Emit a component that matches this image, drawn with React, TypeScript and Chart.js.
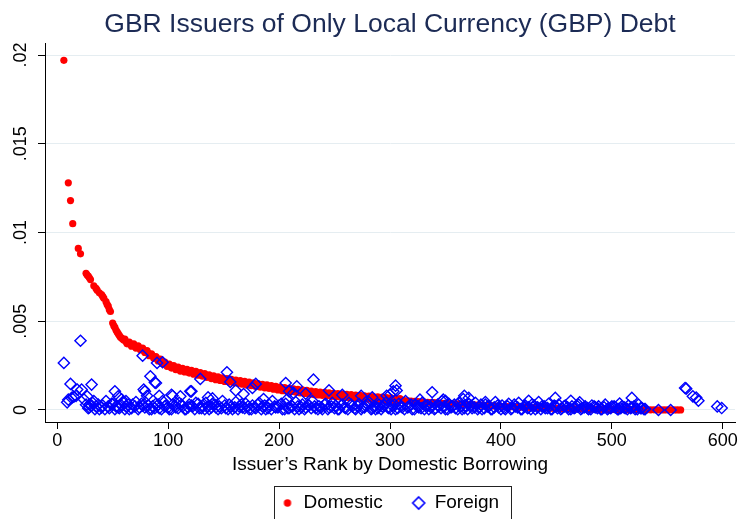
import React, { useEffect, useRef } from "react";
import { Chart, registerables } from "chart.js";

Chart.register(...registerables);

const FONT = '"Liberation Sans", Arial, Helvetica, sans-serif';
const TITLE = "GBR Issuers of Only Local Currency (GBP) Debt";
const X_TITLE = "Issuer\u2019s Rank by Domestic Borrowing";
const SERIES_NAMES = ["Domestic", "Foreign"];
const X_TICKS = [0, 100, 200, 300, 400, 500, 600];
const Y_TICKS = [0, 0.005, 0.01, 0.015, 0.02];
const Y_TICK_LABELS = ["0", ".005", ".01", ".015", ".02"];

// [rank, share in units of 1e-4]
const domesticHead: [number, number][] = [
  [6, 197], [10, 128], [12, 118], [14, 105], [19, 91], [21, 88],
  [26, 77], [27, 76], [28, 75.5], [29, 74.5], [30, 73.5], [33, 70], [35, 68.5], [36, 67.5],
  [38, 66], [40, 65], [41, 64], [42, 63], [44, 61], [45, 59.5], [46, 58.5], [47, 56.5], [48, 55.5],
  [50, 49], [51, 47.5], [52, 46.5], [53, 45], [54, 44], [55, 43], [56, 42], [57, 41], [58, 40.5], [59, 40],
];

const domesticTail: [number, number][] = [
  [60, 39.5], [62, 38.5], [64, 37.8], [66, 37], [68, 36.5], [70, 36], [72, 35.5], [74, 35], [76, 34.5], [78, 33.5],
  [80, 33], [82, 32], [84, 31], [86, 30.5], [88, 29.5], [90, 29], [92, 28], [94, 27.5], [96, 26.5], [98, 25.8],
  [100, 25.2], [102, 24.8], [104, 24.3], [106, 23.8], [108, 23.4], [110, 23], [112, 22.7], [114, 22.4], [116, 22.2], [118, 21.9],
  [120, 21.6], [122, 21.3], [124, 21], [126, 20.7], [128, 20.4], [130, 20.1], [132, 19.8], [134, 19.4], [136, 19.1], [138, 18.8],
  [140, 18.5], [142, 18.2], [144, 17.9], [146, 17.6], [148, 17.4], [150, 17.1], [152, 16.9], [154, 16.7], [156, 16.5], [158, 16.3],
  [160, 16.1], [162, 15.9], [164, 15.7], [166, 15.5], [168, 15.3], [170, 15.1], [172, 14.9], [174, 14.7], [176, 14.5], [178, 14.3],
  [180, 14.1], [182, 13.9], [184, 13.7], [186, 13.5], [188, 13.3], [190, 13.1], [192, 12.9], [194, 12.7], [196, 12.5], [198, 12.3],
  [200, 12.1], [202, 11.9], [204, 11.8], [206, 11.6], [208, 11.4], [210, 11.3], [212, 11.1], [214, 11], [216, 10.8], [218, 10.6],
  [220, 10.5], [222, 10.3], [224, 10.2], [226, 10], [228, 9.9], [230, 9.7], [232, 9.6], [234, 9.5], [236, 9.3], [238, 9.2],
  [240, 9.1], [242, 9], [244, 8.8], [246, 8.7], [248, 8.6], [250, 8.5], [252, 8.4], [254, 8.3], [256, 8.2], [258, 8.1],
  [260, 8], [262, 7.9], [264, 7.8], [266, 7.7], [268, 7.6], [270, 7.5], [272, 7.4], [274, 7.3], [276, 7.2], [278, 7.1],
  [280, 7], [282, 6.9], [284, 6.8], [286, 6.7], [288, 6.6], [290, 6.5], [292, 6.4], [294, 6.3], [296, 6.2], [298, 6.1],
  [300, 6], [302, 5.9], [304, 5.8], [306, 5.7], [308, 5.6], [310, 5.5], [313, 5.3], [316, 5.2], [319, 5], [322, 4.9],
  [325, 4.7], [328, 4.6], [331, 4.5], [334, 4.3], [337, 4.2], [340, 4.1], [343, 4], [346, 3.9], [349, 3.8], [352, 3.7],
  [355, 3.6], [358, 3.5], [361, 3.4], [364, 3.3], [367, 3.2], [370, 3.1], [373, 3], [376, 2.9], [379, 2.8], [382, 2.7],
  [385, 2.6], [388, 2.5], [391, 2.4], [394, 2.3], [397, 2.2], [400, 2.1], [403, 2], [406, 1.9], [409, 1.85], [412, 1.8],
  [415, 1.7], [418, 1.6], [421, 1.55], [424, 1.5], [427, 1.4], [430, 1.35], [433, 1.3], [436, 1.2], [439, 1.15], [442, 1.1],
  [445, 1], [448, 0.95], [451, 0.9], [454, 0.85], [457, 0.8], [460, 0.75], [463, 0.7], [466, 0.65], [469, 0.6], [472, 0.55],
  [475, 0.5], [478, 0.48], [481, 0.45], [484, 0.42], [487, 0.4], [490, 0.37], [493, 0.35], [496, 0.32], [499, 0.3], [502, 0.28],
  [505, 0.26], [508, 0.24], [511, 0.22], [514, 0.2], [517, 0.18], [520, 0.16], [523, 0.14], [526, 0.12], [529, 0.1], [532, 0.09],
  [535, 0.08], [538, 0.07], [541, 0.06], [544, 0.05], [547, 0.04], [550, 0.03], [553, 0.03], [556, 0.02], [559, 0.01], [562, 0.01],
];

// odd-ranked issuers inside the thick part of the band
const domesticBand: [number, number][] = [
  [61, 39.9], [63, 37.3], [65, 38.3], [67, 35.9], [69, 37.2], [71, 34.9], [73, 36.1], [75, 33.9], [77, 34.9], [79, 32.4],
  [81, 33.4], [83, 30.6], [85, 31.6], [87, 29.1], [89, 30.1], [91, 27.6], [93, 28.6], [95, 26.1], [97, 27], [99, 24.6],
  [101, 25.9], [103, 23.6], [105, 25], [107, 22.7], [109, 24.1], [111, 21.9], [113, 23.4], [115, 21.4], [117, 22.9], [119, 20.8],
  [121, 22.3], [123, 20.2], [125, 21.7], [127, 19.6], [129, 21.1], [131, 19], [133, 20.5], [135, 18.3], [137, 19.8], [139, 17.7],
  [141, 19.2], [143, 17.1], [145, 18.6], [147, 16.6], [149, 18.1], [151, 16.1], [153, 17.7], [155, 15.7], [157, 17.3], [159, 15.3],
  [161, 16.9], [163, 14.9], [165, 16.5], [167, 14.5], [169, 16.1], [171, 14.1], [173, 15.7], [175, 13.7], [177, 15.3], [179, 13.3],
  [181, 14.9], [183, 12.9], [185, 14.5], [187, 12.5], [189, 14.1], [191, 12.1], [193, 13.7], [195, 11.7], [197, 13.3], [199, 11.3],
  [201, 12.9], [203, 10.9], [205, 12.6], [207, 10.6], [209, 12.2], [211, 10.3], [213, 11.9], [215, 10], [217, 11.6], [219, 9.6],
  [221, 11.3], [223, 9.3], [225, 11], [227, 9], [229, 10.7], [231, 8.7], [233, 10.4], [235, 8.5], [237, 10.1], [239, 8.2],
  [241, 9.9], [243, 8], [245, 9.6], [247, 7.7], [249, 9.4], [251, 7.5], [253, 9.2], [255, 7.3], [257, 9], [259, 7.1],
  [261, 8.8], [263, 6.9], [265, 8.6], [267, 6.7], [269, 8.4], [271, 6.5], [273, 8.2], [275, 6.3], [277, 8], [279, 6.1],
  [281, 7.8], [283, 5.9], [285, 7.6], [287, 5.7], [289, 7.4], [291, 5.5], [293, 7.2], [295, 5.3], [297, 7], [299, 5.1],
  [301, 6.8], [303, 4.9], [305, 6.6], [307, 4.7], [309, 6.4],
];

const foreignOutliers: [number, number][] = [
  [6, 26.5], [9, 4.3], [10, 5.8], [12, 14.7], [13, 6.8], [15, 7.5], [17, 8], [18, 11.5], [21, 39], [22, 11.5],
  [24, 6], [27, 7.7], [29, 3], [31, 14.3], [33, 5], [52, 10.5], [55, 7.7], [58, 6], [62, 5], [77, 30.6],
  [78, 11.5], [79, 10.5], [81, 8], [84, 19], [88, 15.6], [89, 15.2], [90, 26.5], [92, 8], [95, 26.9], [103, 8.6],
  [104, 8], [111, 7.7], [120, 10.5], [121, 10.5], [129, 17.5], [136, 7.1], [140, 6.5], [153, 21.2], [156, 15.8], [161, 11],
  [168, 9], [176, 12.4], [179, 14.7], [186, 6.2], [206, 15.2], [207, 5.8], [209, 10.5], [213, 9.6], [216, 13.3], [224, 9.2],
  [231, 17.1], [245, 11], [257, 8.5], [274, 8], [284, 7.1], [297, 8], [300, 8.6], [303, 10.5], [305, 13.7], [306, 11],
  [327, 5.8], [338, 10], [348, 5.8], [350, 5.2], [366, 6.2], [367, 8], [371, 6.8], [386, 4.5], [425, 5.2], [449, 6.8],
  [463, 5.2], [471, 4.3], [507, 3.6], [518, 6.8], [542, 0], [553, 0], [566, 12.4], [567, 12], [573, 7.7], [576, 7],
  [578, 5.2], [595, 2], [599, 1.1],
];

const foreignCloudA: [number, number][] = [
  [26, 3], [29, 1.5], [32, 4], [35, 2], [38, 0.5], [41, 2.5], [44, 5], [47, 1], [50, 3.5], [53, 2],
  [56, 1], [59, 4.5], [62, 2], [65, 0.5], [68, 3], [71, 4.5], [74, 1.5], [77, 2.5], [80, 4], [83, 0.5],
  [86, 2], [89, 3.5], [92, 1], [95, 5], [98, 2.5], [101, 0.5], [104, 3], [107, 1.5], [110, 4], [113, 2],
  [116, 0.5], [119, 3], [122, 2], [125, 4], [128, 1], [131, 2.5], [134, 4], [137, 0.5], [140, 3.5], [143, 1.5],
  [146, 2], [149, 5], [152, 1], [155, 3], [158, 0.5], [161, 4.5], [164, 2], [167, 1.5], [170, 3.5], [173, 0.5],
  [176, 2.5], [179, 1], [182, 4], [185, 2], [188, 0.5], [191, 3], [194, 5], [197, 1.5], [200, 2.5], [203, 0.5],
  [206, 3.5], [209, 1], [212, 2], [215, 4.5], [218, 0.5], [221, 3], [224, 1.5], [227, 2.5], [230, 5], [233, 1],
  [236, 2], [239, 0.5], [242, 3.5], [245, 1.5], [248, 4], [251, 2.5], [254, 0.5], [257, 3], [260, 1], [263, 4],
  [266, 2], [269, 0.5], [272, 3.5], [275, 1.5], [278, 2.5], [281, 4.5], [284, 1], [287, 0.5], [290, 3], [293, 2],
  [296, 4], [299, 1], [302, 2.5], [305, 0.5], [308, 3.5], [311, 1.5], [314, 5], [317, 2], [320, 0.5], [323, 3],
  [326, 1.5], [329, 4], [332, 2.5], [335, 0.5], [338, 3], [341, 1], [344, 2], [347, 5], [350, 0.5], [353, 3.5],
  [356, 2], [359, 1], [362, 4], [365, 0.5], [368, 2.5], [371, 3.5], [374, 1], [377, 4], [380, 1.5], [383, 0.5],
  [386, 3], [389, 2], [392, 0.5], [395, 4.5], [398, 1.5], [401, 2.5], [404, 0.5], [407, 3.5], [410, 1], [413, 2],
  [416, 4], [419, 0.5], [422, 2.5], [425, 1.5], [428, 3], [431, 0.5], [434, 4.5], [437, 2], [440, 1], [443, 3.5],
  [446, 0.5], [449, 2], [452, 3], [455, 1], [458, 2.5], [461, 0.5], [464, 2], [467, 1.5], [470, 3], [473, 1],
  [476, 2], [479, 0.5], [482, 2.5], [485, 1.5], [488, 2], [491, 0.5], [494, 3], [497, 1], [500, 2], [503, 1.5],
  [506, 0.5], [509, 2], [512, 1], [515, 2.5], [518, 1.5], [521, 0.5], [524, 3], [527, 1], [530, 0.5],
];

const foreignCloudB: [number, number][] = [
  [28, 1], [31, 2.5], [34, 0.5], [37, 3], [40, 1.5], [43, 0.5], [46, 2], [49, 3.5], [52, 0.5], [55, 1.5],
  [58, 2.5], [61, 0.5], [64, 3], [67, 1], [70, 2], [73, 0.5], [76, 3.5], [79, 1.5], [82, 2.5], [85, 0.5],
  [88, 1], [91, 3], [94, 0.5], [97, 2], [100, 1.5], [103, 0.5], [106, 2.5], [109, 1], [112, 3], [115, 0.5],
  [118, 1.5], [121, 2.5], [124, 0.5], [127, 3.5], [130, 1], [133, 0.5], [136, 2], [139, 1.5], [142, 3], [145, 0.5],
  [148, 1], [151, 2.5], [154, 0.5], [157, 2], [160, 1.5], [163, 0.5], [166, 3], [169, 1], [172, 2], [175, 0.5],
  [178, 1.5], [181, 3], [184, 0.5], [187, 2.5], [190, 1], [193, 0.5], [196, 2], [199, 1.5], [202, 3.5], [205, 0.5],
  [208, 1], [211, 2.5], [214, 0.5], [217, 2], [220, 1.5], [223, 0.5], [226, 3], [229, 1], [232, 2], [235, 0.5],
  [238, 1.5], [241, 3], [244, 0.5], [247, 2], [250, 1], [253, 0.5], [256, 2.5], [259, 1.5], [262, 0.5], [265, 3],
  [268, 1], [271, 2], [274, 0.5], [277, 1.5], [280, 3], [283, 0.5], [286, 2], [289, 1], [292, 0.5], [295, 2.5],
  [298, 1.5], [301, 0.5], [304, 3], [307, 1], [310, 2], [313, 0.5], [316, 1.5], [319, 3], [322, 0.5], [325, 2],
  [328, 1], [331, 0.5], [334, 2.5], [337, 1.5], [340, 0.5], [343, 3], [346, 1], [349, 2], [352, 0.5], [355, 1.5],
  [358, 3], [361, 0.5], [364, 2], [367, 1], [370, 0.5], [373, 2.5], [376, 1.5], [379, 0.5], [382, 3], [385, 1],
  [388, 2], [391, 0.5], [394, 1.5], [397, 2.5], [400, 0.5], [403, 1], [406, 2], [409, 0.5], [412, 3], [415, 1.5],
  [418, 0.5], [421, 2], [424, 1], [427, 0.5], [430, 2.5], [433, 1.5], [436, 0.5], [439, 2], [442, 1], [445, 0.5],
  [448, 2.5], [451, 1], [454, 0.5], [457, 2], [460, 1.5], [463, 0.5], [466, 1], [469, 2], [472, 0.5], [475, 1.5],
  [478, 1], [481, 0.5], [484, 2], [487, 1], [490, 0.5], [493, 1.5], [496, 0.5], [499, 1], [502, 2], [505, 0.5],
  [508, 1], [511, 1.5], [514, 0.5], [517, 1], [520, 2], [523, 0.5], [526, 1], [529, 0.5],
];

const toPoints = (arr: [number, number][]) => arr.map(([x, v]) => ({ x, y: v / 10000 }));

function makeMarker(kind: "dot" | "diamond"): HTMLCanvasElement {
  const c = document.createElement("canvas");
  c.width = 16;
  c.height = 16;
  const g = c.getContext("2d")!;
  if (kind === "dot") {
    g.fillStyle = "#ff0000";
    g.beginPath();
    g.arc(8, 8, 3.7, 0, Math.PI * 2);
    g.fill();
  } else {
    g.strokeStyle = "#0000ff";
    g.lineWidth = 1.6;
    g.beginPath();
    g.moveTo(8, 2);
    g.lineTo(14, 8);
    g.lineTo(8, 14);
    g.lineTo(2, 8);
    g.closePath();
    g.stroke();
  }
  return c;
}

export default function App() {
  const ref = useRef<HTMLCanvasElement>(null);

  useEffect(() => {
    const canvas = ref.current!;
    const markers = [makeMarker("dot"), makeMarker("diamond")];

    const extras = {
      id: "stataExtras",
      afterDraw(chart: any) {
        const ctx = chart.ctx;
        const ys = chart.scales.y;
        ctx.save();
        ctx.font = `18px ${FONT}`;
        ctx.fillStyle = "#000";
        ctx.textAlign = "center";
        ctx.textBaseline = "alphabetic";
        Y_TICKS.forEach((v, i) => {
          const py = ys.getPixelForValue(v);
          ctx.save();
          ctx.translate(chart.chartArea.left - 19.5, py);
          ctx.rotate(-Math.PI / 2);
          ctx.fillText(Y_TICK_LABELS[i], 0, 0);
          ctx.restore();
        });
        const lg = chart.legend;
        const hb = lg && lg.legendHitBoxes;
        if (hb && hb.length) {
          const last = hb[hb.length - 1];
          const l = Math.round(hb[0].left - 7) + 0.5;
          const r = Math.round(last.left + last.width + 12) + 0.5;
          const t = Math.round(lg.top + 22) + 0.5;
          ctx.strokeStyle = "#222";
          ctx.lineWidth = 1;
          ctx.strokeRect(l, t, r - l, 80);
        }
        ctx.restore();
      },
    };

    const chart = new Chart(canvas, {
      type: "scatter",
      data: {
        datasets: [
          {
            label: SERIES_NAMES[0],
            data: toPoints([...domesticHead, ...domesticTail, ...domesticBand]),
            pointStyle: "circle",
            pointRadius: 3.6,
            pointBackgroundColor: "#ff0000",
            pointBorderWidth: 0,
            borderColor: "#ff0000",
            backgroundColor: "#ff0000",
            order: 1,
          },
          {
            label: SERIES_NAMES[1],
            data: toPoints([...foreignOutliers, ...foreignCloudA, ...foreignCloudB]),
            pointStyle: "rectRot",
            pointRadius: 5.6,
            pointBackgroundColor: "rgba(0,0,0,0)",
            pointBorderColor: "#0000ff",
            pointBorderWidth: 1.4,
            borderColor: "#0000ff",
            backgroundColor: "rgba(0,0,0,0)",
            order: 0,
          },
        ],
      },
      options: {
        responsive: false,
        animation: false,
        events: [],
        layout: { padding: { left: 0, right: 6, top: 0, bottom: -3.5 } },
        plugins: {
          tooltip: { enabled: false },
          title: {
            display: true,
            text: TITLE,
            fullSize: false,
            color: "#1c2b55",
            font: { family: FONT, size: 26.5, weight: "normal", lineHeight: 1 },
            padding: { top: 11, bottom: 5.5 },
          },
          legend: {
            display: true,
            position: "bottom",
            fullSize: false,
            labels: {
              usePointStyle: true,
              boxWidth: 13,
              boxHeight: 6,
              padding: 29.5,
              color: "#000",
              font: { family: FONT, size: 19 },
              generateLabels: (ch: any) => {
                const items = (Chart.defaults.plugins.legend.labels as any).generateLabels(ch);
                return items
                  .sort((a: any, b: any) => a.datasetIndex - b.datasetIndex)
                  .map((it: any) => ({ ...it, pointStyle: markers[it.datasetIndex] }));
              },
            },
          },
        },
        scales: {
          x: {
            type: "linear",
            position: "bottom",
            min: -11,
            max: 611,
            afterBuildTicks: (s: any) => {
              s.ticks = X_TICKS.map((v) => ({ value: v }));
            },
            afterFit: (s: any) => {
              s.height = 42;
            },
            ticks: {
              color: "#000",
              padding: 1,
              font: { family: FONT, size: 18 },
              callback: (v: any) => String(v),
            },
            grid: {
              drawOnChartArea: false,
              drawTicks: true,
              tickLength: 7,
              tickColor: "#000",
              lineWidth: 1,
            },
            border: { display: true, color: "#000", width: 1 },
            title: {
              display: true,
              text: X_TITLE,
              color: "#000",
              font: { family: FONT, size: 19, lineHeight: 1 },
              padding: { top: 0, bottom: -10.5 },
            },
          },
          y: {
            type: "linear",
            position: "left",
            min: -0.000677,
            max: 0.020677,
            afterBuildTicks: (s: any) => {
              s.ticks = Y_TICKS.map((v) => ({ value: v }));
            },
            afterFit: (s: any) => {
              s.width = 45;
            },
            ticks: { display: false },
            grid: {
              color: "#e5edf1",
              lineWidth: 1,
              drawTicks: true,
              tickLength: 7,
              tickColor: "#000",
            },
            border: { display: true, color: "#000", width: 1 },
          },
        },
      },
      plugins: [extras],
    } as any);

    return () => chart.destroy();
  }, []);

  return (
    <div style={{ position: "fixed", left: 0, top: 0, width: 742, height: 519, background: "#fff" }}>
      <canvas ref={ref} width={742} height={519} style={{ display: "block" }} />
    </div>
  );
}
